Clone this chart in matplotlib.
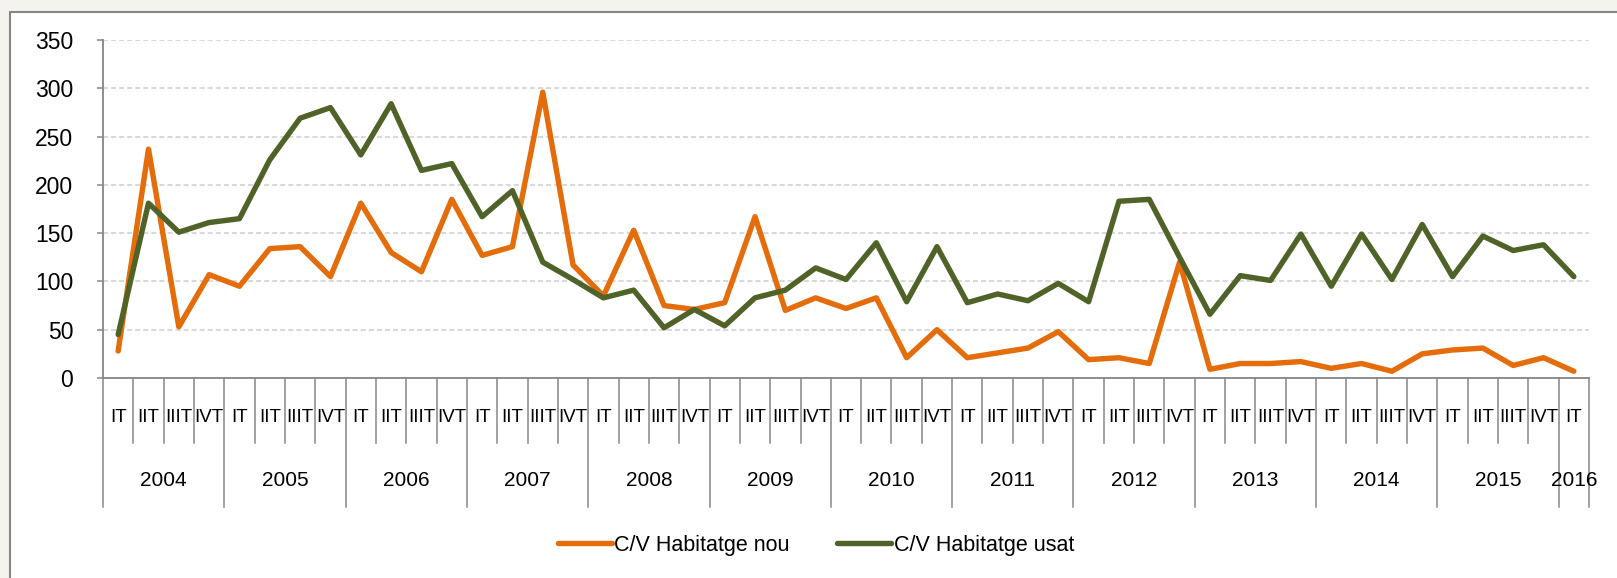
import matplotlib
matplotlib.use("Agg")
import matplotlib.pyplot as plt
from matplotlib.patches import Rectangle

plt.rcParams['font.family'] = ['Liberation Sans', 'DejaVu Sans']
plt.rcParams['lines.scale_dashes'] = False

# data (2004 IT .. 2016 IT)
years = ['2004', '2005', '2006', '2007', '2008', '2009', '2010', '2011',
         '2012', '2013', '2014', '2015', '2016']
quarters = ['IT', 'IIT', 'IIIT', 'IVT']
habitatge_nou = [28, 237, 53, 107, 95, 134, 136, 105, 181, 130, 110, 185,
                 127, 136, 296, 117, 85, 153, 75, 71, 78, 167, 70, 83,
                 72, 83, 21, 50, 21, 26, 31, 48, 19, 21, 15, 120,
                 9, 15, 15, 17, 10, 15, 7, 25, 29, 31, 13, 21, 7]
habitatge_usat = [45, 181, 151, 161, 165, 226, 269, 280, 231, 284, 215, 222,
                  167, 194, 120, 102, 83, 91, 52, 71, 54, 83, 91, 114,
                  102, 140, 79, 136, 78, 87, 80, 98, 79, 183, 185, 125,
                  66, 106, 101, 149, 95, 149, 102, 159, 105, 147, 132, 138, 105]

n = len(habitatge_nou)
labels_q = [quarters[i % 4] for i in range(n)]

orange = '#E46C0A'
green = '#4F6228'
axis_gray = '#868686'

W, H = 1617, 578
fig = plt.figure(figsize=(W / 100, H / 100), dpi=100, facecolor='#f4f3ee')

# white chart area with gray frame
fig.add_artist(Rectangle((9.5 / W, -0.05), 1.1, (H - 12) / H + 0.05,
                         transform=fig.transFigure, facecolor='white',
                         edgecolor=axis_gray, lw=1.5, zorder=0))

ax = fig.add_axes([103 / W, 1 - 378 / H, (1589 - 103) / W, (378 - 40) / H])
ax.set_facecolor('none')

x = list(range(n))
ax.plot(x, habitatge_nou, color=orange, lw=3.9, solid_joinstyle='round',
        solid_capstyle='round', label='C/V Habitatge nou', zorder=3)
ax.plot(x, habitatge_usat, color=green, lw=3.9, solid_joinstyle='round',
        solid_capstyle='round', label='C/V Habitatge usat', zorder=3)

ax.set_xlim(-0.5, n - 0.5)
ax.set_ylim(0, 350)
ax.set_yticks(range(0, 351, 50))
ax.yaxis.grid(True, color='#d9d9d9', lw=1.5, linestyle=(0, (3.6, 2.2)))
ax.set_axisbelow(True)

for s in ['top', 'right']:
    ax.spines[s].set_visible(False)
for s in ['left', 'bottom']:
    ax.spines[s].set_color(axis_gray)
    ax.spines[s].set_linewidth(1.3)

ax.tick_params(axis='y', length=4.5, width=1.1, color=axis_gray,
               labelsize=16.5, pad=17)
ax.set_xticks([])

# category separators below the axis
xt = ax.get_xaxis_transform()
for b in range(n + 1):
    pos = b - 0.5
    long_line = (b % 4 == 0) or b == n
    depth = -129 / 338 if long_line else -65 / 338
    ax.plot([pos, pos], [0, depth], transform=xt, color=axis_gray,
            lw=1.1, clip_on=False)

# quarter labels
for i, q in enumerate(labels_q):
    ax.annotate(q, xy=(i, 0), xycoords=('data', 'axes fraction'),
                xytext=(0, -40), textcoords='offset pixels',
                ha='center', va='center', fontsize=13.5)

# year labels
for k, y in enumerate(years):
    first = k * 4
    last = min(first + 3, n - 1)
    ax.annotate(y, xy=((first + last) / 2, 0), xycoords=('data', 'axes fraction'),
                xytext=(0, -103), textcoords='offset pixels',
                ha='center', va='center', fontsize=15)

fig.legend(loc='center', bbox_to_anchor=(816 / W, 1 - 545 / H), ncol=2,
           frameon=False, fontsize=15.5, handlelength=2.5, handletextpad=0.12,
           columnspacing=2.2)

fig.savefig('out.png', dpi=100, facecolor=fig.get_facecolor())
